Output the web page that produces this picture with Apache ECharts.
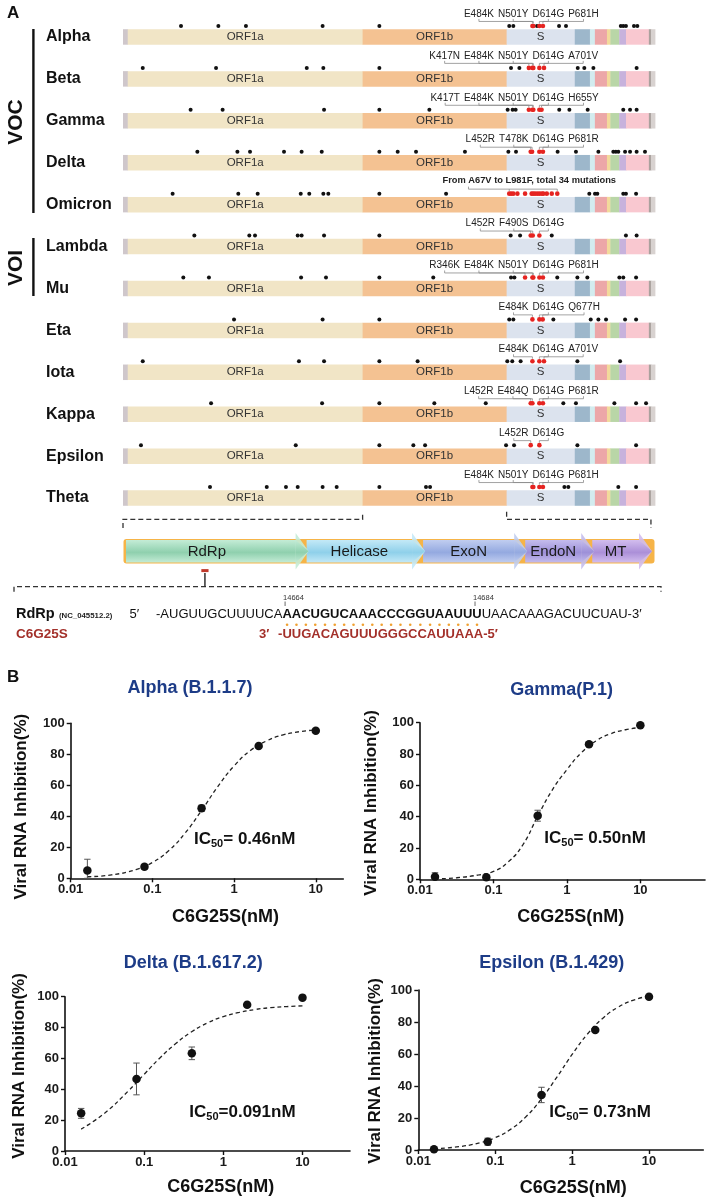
<!DOCTYPE html>
<html><head><meta charset="utf-8">
<script src="https://cdn.jsdelivr.net/npm/echarts@6/dist/echarts.min.js"></script>
<style>html,body{margin:0;padding:0;background:#fff}#c{width:709px;height:1201px}</style>
</head><body><div id="c"></div>
<script>
// ---------------- DATA ----------------
const variants = ['Alpha','Beta','Gamma','Delta','Omicron','Lambda','Mu','Eta','Iota','Kappa','Epsilon','Theta'];
const geneNames = ['5\u2032UTR','ORF1a','ORF1b','S','ORF3a','E','M','ORF6','ORF7','ORF8','N','ORF10','3\u2032UTR'];
const geneStartKb = [0, 0.266, 13.468, 21.563, 25.393, 26.245, 26.523, 27.202, 27.394, 27.894, 28.274, 29.558, 29.675];
const genomeLengthKb = 29.903;
const spikeStartNt = 21563;
// non-highlighted mutations (black dots), genome position in kb, per variant (same order as variants)
const otherMutKb = [
  [3.26, 5.36, 6.91, 11.22, 14.41, 21.71, 21.94, 23.27, 24.51, 24.90, 27.98, 28.12, 28.27, 28.72, 28.91],
  [1.11, 5.23, 10.33, 11.26, 14.41, 21.81, 22.28, 25.56, 25.93, 26.44, 28.87],
  [3.80, 5.60, 11.30, 14.41, 17.22, 21.62, 21.90, 22.07, 24.52, 25.09, 26.12, 28.12, 28.50, 28.87],
  [4.18, 6.43, 7.14, 9.05, 10.04, 11.17, 14.41, 15.44, 16.47, 19.22, 21.66, 22.09, 24.43, 25.46, 26.72, 27.56, 27.70, 27.84, 28.22, 28.50, 28.87, 29.34],
  [2.79, 6.48, 7.57, 9.99, 10.47, 11.26, 11.54, 14.41, 18.16, 26.21, 26.53, 26.66, 28.12, 28.27, 28.84],
  [4.01, 7.10, 7.42, 9.82, 10.04, 11.30, 14.41, 21.79, 22.32, 24.10, 28.27, 28.87],
  [3.39, 4.83, 10.01, 11.41, 14.41, 17.44, 21.81, 22.00, 24.41, 25.54, 26.10, 27.90, 28.12, 28.84],
  [6.24, 11.22, 14.41, 21.71, 21.94, 24.19, 26.29, 26.72, 27.15, 28.22, 28.84],
  [1.11, 9.89, 11.30, 14.41, 16.56, 21.60, 21.88, 22.35, 25.54, 27.94],
  [4.95, 11.19, 14.41, 17.50, 20.39, 24.75, 25.46, 27.62, 28.84, 29.40],
  [1.01, 9.71, 14.41, 16.32, 16.98, 21.53, 21.98, 25.54, 28.84],
  [4.89, 8.08, 9.16, 9.82, 11.22, 12.01, 14.41, 17.03, 17.26, 24.81, 25.03, 27.84, 28.84]
];
// highlighted spike mutations (red dots with labels)
const spikeMutations = [
  ['E484K','N501Y','D614G','P681H'],
  ['K417N','E484K','N501Y','D614G','A701V'],
  ['K417T','E484K','N501Y','D614G','H655Y'],
  ['L452R','T478K','D614G','P681R'],
  [],
  ['L452R','F490S','D614G'],
  ['R346K','E484K','N501Y','D614G','P681H'],
  ['E484K','D614G','Q677H'],
  ['E484K','D614G','A701V'],
  ['L452R','E484Q','D614G','P681R'],
  ['L452R','D614G'],
  ['E484K','N501Y','D614G','P681H']
];
const omicronRow = 4;
const omicronSpikeKb = [21.71, 21.82, 21.94, 22.17, 22.60, 22.97, 23.06, 23.17, 23.30, 23.42, 23.55, 23.63, 23.82, 24.10, 24.41];
const omicronNote = 'From A67V to L981F, total 34 mutations';

const domainNames = ['RdRp','Helicase','ExoN','EndoN','MT'];
const domainLengthAa = [932, 601, 527, 346, 298];
const nsp12StartNt = 13442;
const targetStartNt = 14664;
const targetEndNt = 14684;
const seqPrefix = '-AUGUUGCUUUUCA';
const seqTarget = 'AACUGUCAAACCCGGUAAUUU';
const seqSuffix = 'UAACAAAGACUUCUAU-3\u2032';
const sirnaSeq = 'UUGACAGUUUGGGCCAUUAAA';

const doseConcNM = [0.016, 0.08, 0.4, 2, 10];
const curveConcNM = [0.016, 0.0316, 0.063, 0.1, 0.158, 0.251, 0.398, 0.631, 1, 1.585, 2.512, 3.981, 6.31, 10];
const xTickNM = [0.01, 0.1, 1, 10];
const panelTitles = ['Alpha (B.1.1.7)', 'Gamma(P.1)', 'Delta (B.1.617.2)', 'Epsilon (B.1.429)'];
const ic50Texts = ['= 0.46nM', '= 0.50nM', '=0.091nM', '= 0.73nM'];
const alphaMean = [5, 7.5, 45.2, 85.4, 95.2];
const alphaErr = [7.3, 1.5, 2, 1, 0.6];
const alphaCurve = [1, 2.2, 5.6, 10.2, 17.8, 29.1, 43.6, 59.1, 72.5, 82.4, 88.7, 92.5, 94.6, 95.7];
const gammaMean = [1.7, 1.3, 40.6, 86.2, 98.3];
const gammaErr = [2.5, 0.8, 3.5, 1, 0.6];
const gammaCurve = [0.2, 1.0, 2.8, 5.0, 11, 22, 40, 57, 70, 81, 88.5, 93, 95.5, 97];
const deltaMean = [24.4, 46.7, 63.3, 94.8, 99.4];
const deltaErr = [3.2, 10.3, 4.1, 1, 0.8];
const deltaCurve = [14.2, 24.5, 38.9, 49.7, 60.3, 69.6, 77.3, 83, 87.1, 89.8, 91.7, 92.9, 93.6, 94.1];
const epsilonMean = [0.4, 5.2, 34.4, 75, 95.8];
const epsilonErr = [0.5, 2.2, 4.8, 1, 0.8];
const epsilonCurve = [0.8, 1.9, 4.5, 7.7, 12.9, 20.8, 31.9, 45.4, 59.7, 72.5, 82.4, 89.3, 93.7, 96.3];

// ---------------- LAYOUT / STYLE ----------------
const FF = '"Liberation Sans", Arial, Helvetica, sans-serif';
const geneColors = ['#cfc7cb','#f1e5c6','#f4c292','#dce3ee','#9db7cb','#d3ecef','#eca7a8','#f2da9b','#b9d6a7','#c7b2dc','#f9c8d0','#aaa19d','#d8d2d0'];
const geneLabelled = {'ORF1a':1,'ORF1b':1,'S':1};
const domainColors = [['#c4ecd6','#8fd0ae'],['#c3e9f7','#8fd0ea'],['#c0cdf0','#94a9e0'],['#c4bced','#9d90d8'],['#d2bdee','#ab8fd8']];
const BLUE = '#1d3c87';
const RED_TXT = '#a3302a';

const mctx = document.createElement('canvas').getContext('2d');
function textW(t, font){ mctx.font = font; return mctx.measureText(t).width; }
function aaToKb(aa){ return (spikeStartNt + 3*(aa-1) + 1)/1000; }
function mutKb(m){ return aaToKb(parseInt(m.match(/\d+/)[0], 10)); }

const chart = echarts.init(document.getElementById('c'), null, {renderer:'canvas'});

// genome bars data
const geneData = [];
variants.forEach((v, r) => {
  geneStartKb.forEach((s, g) => {
    const e = g < geneStartKb.length - 1 ? geneStartKb[g+1] : genomeLengthKb;
    geneData.push([s, e, r, g]);
  });
});
const blackData = [], redData = [];
otherMutKb.forEach((arr, r) => arr.forEach(k => blackData.push([k, r])));
spikeMutations.forEach((arr, r) => arr.forEach(m => redData.push([mutKb(m), r])));
omicronSpikeKb.forEach(k => redData.push([k, omicronRow]));

function renderGene(params, api){
  const g = api.value(3);
  const a = api.coord([api.value(0), api.value(2)]);
  const b = api.coord([api.value(1), api.value(2)]);
  const h = 15.5;
  const ch = [{type:'rect', shape:{x:a[0], y:a[1]-h/2, width:b[0]-a[0]+0.4, height:h}, style:{fill:geneColors[g]}}];
  if (geneLabelled[geneNames[g]]) {
    ch.push({type:'text', z2:5, style:{text:geneNames[g], x:(a[0]+b[0])/2, y:a[1], align:'center', verticalAlign:'middle', font:'11.5px ' + FF, fill:'#333'}});
  }
  return {type:'group', children:ch};
}

const labelFont = '10px ' + FF;
function renderSpikeLabels(params, api){
  const row = api.value(1);
  const yc = api.coord([0, row])[1];
  const labY = yc - 23, labBottom = yc - 18, hY = yc - 15.5, dotTop = yc - 13.5;
  const ls = {stroke:'#8c8c8c', lineWidth:0.8, fill:null};
  const ch = [];
  if (row === omicronRow) {
    const xs = omicronSpikeKb.map(k => api.coord([k, row])[0]);
    const x0 = Math.min.apply(null, xs), x1 = Math.max.apply(null, xs);
    const f = 'bold 9.3px ' + FF;
    const cx = (x0 + x1)/2 - 4;
    const tw = textW(omicronNote, f);
    const lx = cx - tw/2 + 26;
    ch.push({type:'text', style:{text:omicronNote, x:cx, y:labY - 1, align:'center', verticalAlign:'middle', font:f, fill:'#222'}});
    ch.push({type:'polyline', shape:{points:[[lx,labBottom],[lx,hY],[x1,hY],[x1,dotTop]]}, style:ls});
    ch.push({type:'polyline', shape:{points:[[x0,hY],[x0,dotTop]]}, style:ls});
    return {type:'group', children:ch};
  }
  const muts = spikeMutations[row];
  const xs = muts.map(m => api.coord([mutKb(m), row])[0]);
  const ws = muts.map(m => textW(m, labelFont));
  const gap = 4;
  const ai = muts.indexOf('D614G');
  const cx = new Array(muts.length);
  cx[ai] = xs[ai] + 9;
  for (let i = ai-1; i >= 0; i--) cx[i] = cx[i+1] - ws[i+1]/2 - gap - ws[i]/2;
  for (let i = ai+1; i < muts.length; i++) cx[i] = cx[i-1] + ws[i-1]/2 + gap + ws[i]/2;
  muts.forEach((m, i) => {
    ch.push({type:'text', style:{text:m, x:cx[i], y:labY, align:'center', verticalAlign:'middle', font:labelFont, fill:'#222'}});
    ch.push({type:'polyline', shape:{points:[[cx[i],labBottom],[cx[i],hY],[xs[i],hY],[xs[i],dotTop]]}, style:ls});
  });
  return {type:'group', children:ch};
}

// domains
const domainStart = [];
let acc = 0;
domainLengthAa.forEach(l => { domainStart.push(acc); acc += l; });
const totalAa = acc;
const domainData = domainNames.map((n, i) => [domainStart[i], domainStart[i] + domainLengthAa[i], i]);
function renderDomain(params, api){
  const i = api.value(2);
  const a = api.coord([api.value(0), 0.5]), b = api.coord([api.value(1), 0.5]);
  const h = 22.6, top = a[1]-h/2, bot = a[1]+h/2, yc = a[1];
  const head = 11, flare = 7;
  const x0 = a[0], x1 = b[0];
  const grad = new echarts.graphic.LinearGradient(0, 0, 0, 1, [{offset:0, color:domainColors[i][0]}, {offset:0.55, color:domainColors[i][1]}, {offset:1, color:domainColors[i][0]}]);
  return {type:'group', children:[
    {type:'rect', z2: 10 - i, shape:{x:x0, y:top, width:x1-head-x0+0.5, height:h}, style:{fill:grad}},
    {type:'polygon', z2: 10 - i, shape:{points:[[x1-head, top-flare],[x1+2, yc],[x1-head, bot+flare]]}, style:{fill:domainColors[i][0], opacity:0.9}},
    {type:'polygon', z2: 10 - i, shape:{points:[[x1-head, top],[x1+2, yc],[x1-head, bot]]}, style:{fill:grad}},
    {type:'text', z2: 30, style:{text:domainNames[i], x:(x0 + x1 - head)/2 + (i === 0 ? -4 : 0), y:yc + 0.5, align:'center', verticalAlign:'middle', font:'15px ' + FF, fill:'#1a1a1a'}}
  ]};
}
function renderDomainFrame(params, api){
  const a = api.coord([api.value(0), 0.5]), b = api.coord([api.value(1), 0.5]);
  const h = 22.6;
  return {type:'rect', z2: 0, shape:{x:a[0]-2.5, y:a[1]-h/2-1, width:b[0]-a[0]+7, height:h+2, r:3}, style:{fill:'#f6b448'}};
}
const targetAa = (targetStartNt - nsp12StartNt)/3;
function renderTarget(params, api){
  const p = api.coord([api.value(0), 0]);
  return {type:'group', children:[
    {type:'rect', shape:{x:p[0]-3.6, y:p[1]+6.5, width:7.2, height:3}, style:{fill:'#c0392b'}},
    {type:'line', shape:{x1:p[0], y1:p[1]+10.5, x2:p[0], y2:p[1]+24}, style:{stroke:'#222', lineWidth:1.4}}
  ]};
}

// panel B
const panels = [
  {left:70.7, top:723.3, width:272.6, height:155, xmax:1.337, title:[190,688.3], yname:[21.7,806.7], xname:[225.5,917.3], ic:[194,839.3], mean:alphaMean, err:alphaErr, curve:alphaCurve},
  {left:420, top:722.7, width:285, height:156.6, xmax:1.88, title:[561.7,690], yname:[371.7,803], xname:[570.8,917.3], ic:[544.3,838.3], mean:gammaMean, err:gammaErr, curve:gammaCurve},
  {left:65, top:996.7, width:285, height:154.3, xmax:1.6, title:[193.3,963.3], yname:[19.3,1066], xname:[220.8,1186.7], ic:[189.3,1112.7], mean:deltaMean, err:deltaErr, curve:deltaCurve},
  {left:418.3, top:990, width:285, height:160, xmax:1.706, title:[551.7,963.3], yname:[375,1071], xname:[573.3,1188.3], ic:[549.3,1112.7], mean:epsilonMean, err:epsilonErr, curve:epsilonCurve}
];
function renderErr(params, api){
  const x = api.value(0), m = api.value(1), e = api.value(2);
  const hi = api.coord([x, m + e]), lo = api.coord([x, Math.max(0, m - e)]);
  const c = 3.2, st = {stroke:'#555', lineWidth:1};
  return {type:'group', children:[
    {type:'line', shape:{x1:hi[0], y1:hi[1], x2:lo[0], y2:lo[1]}, style:st},
    {type:'line', shape:{x1:hi[0]-c, y1:hi[1], x2:hi[0]+c, y2:hi[1]}, style:st},
    {type:'line', shape:{x1:lo[0]-c, y1:lo[1], x2:lo[0]+c, y2:lo[1]}, style:st}
  ]};
}
const xTickLog = xTickNM.map(v => Math.log10(v));
function fmtConc(v){ return String(parseFloat(Math.pow(10, v).toPrecision(3))); }

const grids = [
  {left:123, top:16, width:532, height:503},
  {left:126, top:540, width:524, height:22.6}
];
const xAxes = [
  {gridIndex:0, type:'value', min:0, max:genomeLengthKb, show:false},
  {gridIndex:1, type:'value', min:0, max:totalAa, show:false}
];
const yAxes = [
  {gridIndex:0, type:'category', data:variants, inverse:true, axisLine:{show:false}, axisTick:{show:false}, splitLine:{show:false},
   axisLabel:{align:'left', margin:77, fontSize:16, fontWeight:'bold', color:'#111', fontFamily:FF}},
  {gridIndex:1, type:'value', min:0, max:1, show:false}
];
const series = [
  {type:'custom', xAxisIndex:0, yAxisIndex:0, data:geneData, renderItem:renderGene, encode:{x:[0,1], y:2}, clip:false, silent:true, z:2},
  {type:'scatter', xAxisIndex:0, yAxisIndex:0, data:blackData, symbolSize:4, symbolOffset:[0,-11], itemStyle:{color:'#111', opacity:1}, silent:true, z:3},
  {type:'scatter', xAxisIndex:0, yAxisIndex:0, data:redData, symbolSize:4.6, symbolOffset:[0,-11], itemStyle:{color:'#e52421', opacity:1}, silent:true, z:4},
  {type:'custom', xAxisIndex:0, yAxisIndex:0, data:variants.map((v, r) => [0, r]), renderItem:renderSpikeLabels, encode:{x:0, y:1}, clip:false, silent:true, z:5},
  {type:'custom', xAxisIndex:1, yAxisIndex:1, data:[[0, totalAa]], renderItem:renderDomainFrame, encode:{x:[0,1]}, clip:false, silent:true, z:2},
  {type:'custom', xAxisIndex:1, yAxisIndex:1, data:domainData, renderItem:renderDomain, encode:{x:[0,1]}, clip:false, silent:true, z:3},
  {type:'custom', xAxisIndex:1, yAxisIndex:1, data:[[targetAa]], renderItem:renderTarget, encode:{x:0}, clip:false, silent:true, z:3}
];
const axisTxt = {fontWeight:'bold', fontSize:13, color:'#1a1a1a', fontFamily:FF};
panels.forEach((p, i) => {
  const gi = i + 2;
  grids.push({left:p.left, top:p.top, width:p.width, height:p.height});
  xAxes.push({gridIndex:gi, type:'value', min:-2, max:p.xmax, splitLine:{show:false},
    axisLine:{show:true, onZero:false, lineStyle:{color:'#111', width:1.6}},
    axisTick:{show:true, customValues:xTickLog, length:4, lineStyle:{color:'#111', width:1.4}},
    axisLabel:Object.assign({customValues:xTickLog, formatter:fmtConc, margin:5}, axisTxt)});
  yAxes.push({gridIndex:gi, type:'value', min:0, max:100, interval:20, splitLine:{show:false},
    axisLine:{show:true, onZero:false, lineStyle:{color:'#111', width:1.6}},
    axisTick:{show:true, length:4, lineStyle:{color:'#111', width:1.4}},
    axisLabel:Object.assign({margin:6}, axisTxt)});
  series.push({type:'line', xAxisIndex:gi, yAxisIndex:gi, data:curveConcNM.map((c, k) => [Math.log10(c), p.curve[k]]), smooth:true, showSymbol:false, symbol:'none',
    lineStyle:{type:[4,3], width:1.3, color:'#222'}, silent:true, z:2});
  series.push({type:'custom', xAxisIndex:gi, yAxisIndex:gi, data:doseConcNM.map((c, k) => [Math.log10(c), p.mean[k], p.err[k]]), renderItem:renderErr, encode:{x:0, y:1}, clip:false, silent:true, z:3});
  series.push({type:'scatter', xAxisIndex:gi, yAxisIndex:gi, data:doseConcNM.map((c, k) => [Math.log10(c), p.mean[k]]), symbolSize:8.5, itemStyle:{color:'#111', opacity:1}, silent:true, z:4});
});

// ---------------- GRAPHIC ANNOTATIONS ----------------
const graphics = [];
function txt(x, y, text, font, fill, align, rot){
  const o = {type:'text', x:x, y:y, style:{text:text, font:font, fill:fill || '#111', align:align || 'left', verticalAlign:'middle'}};
  if (rot) o.rotation = rot;
  return o;
}
graphics.push(txt(7, 13.3, 'A', 'bold 17px ' + FF));
graphics.push(txt(7, 677.5, 'B', 'bold 17px ' + FF));
graphics.push(txt(16, 122, 'VOC', 'bold 21px ' + FF, '#111', 'center', Math.PI/2));
graphics.push(txt(16, 268, 'VOI', 'bold 21px ' + FF, '#111', 'center', Math.PI/2));
graphics.push({type:'rect', shape:{x:32.2, y:29, width:2.4, height:184}, style:{fill:'#111'}});
graphics.push({type:'rect', shape:{x:32.2, y:238, width:2.4, height:58}, style:{fill:'#111'}});

// sequence block
const seqY = 614.3, sirY = 634.3;
const fN = '13px ' + FF, fB = 'bold 13px ' + FF;
const seqX = 156;
graphics.push(txt(16, seqY, 'RdRp', 'bold 14.5px ' + FF));
graphics.push(txt(59, seqY + 1.5, '(NC_045512.2)', 'bold 7.8px ' + FF, '#222'));
graphics.push(txt(129.5, seqY, '5\u2032', fN, '#111'));
graphics.push({type:'text', x:seqX, y:seqY, style:{text:'{n|' + seqPrefix + '}{b|' + seqTarget + '}{n|' + seqSuffix + '}', verticalAlign:'middle', align:'left', fill:'#111',
  rich:{n:{fontSize:13, fontFamily:FF}, b:{fontSize:13, fontWeight:'bold', fontFamily:FF}}}});
const tStart = seqX + textW(seqPrefix, fN);
const charCenters = [];
for (let k = 0; k < seqTarget.length; k++) {
  charCenters.push(tStart + textW(seqTarget.slice(0, k), fB) + textW(seqTarget[k], fB)/2);
}
charCenters.forEach(cx => graphics.push({type:'circle', shape:{cx:cx, cy:624.8, r:1.3}, style:{fill:'#f0a030'}}));
graphics.push(txt(16, sirY, 'C6G25S', 'bold 13.5px ' + FF, RED_TXT));
graphics.push(txt(259, sirY, '3\u2032', fB, RED_TXT));
graphics.push(txt(tStart - textW('-', fB), sirY, '-' + sirnaSeq + '-5\u2032', fB, RED_TXT));
[[0, targetStartNt], [seqTarget.length - 1, targetEndNt]].forEach(([k, nt]) => {
  const x = charCenters[k] - 2;
  graphics.push(txt(x - 2, 597.5, String(nt), '7.5px ' + FF, '#333'));
  graphics.push({type:'line', shape:{x1:x, y1:601.5, x2:x, y2:606}, style:{stroke:'#444', lineWidth:0.8}});
});
const dash = {stroke:'#333', lineWidth:1.3, lineDash:[5,3], fill:null};
graphics.push({type:'polyline', shape:{points:[[14,591.7],[14,586.7],[661,586.7],[661,591.7]]}, style:dash});

// panel B texts
panels.forEach((p, i) => {
  graphics.push(txt(p.title[0], p.title[1], panelTitles[i], 'bold 18px ' + FF, BLUE, 'center'));
  graphics.push(txt(p.yname[0], p.yname[1], 'Viral RNA Inhibition(%)', 'bold 17px ' + FF, '#111', 'center', Math.PI/2));
  graphics.push(txt(p.xname[0], p.xname[1], 'C6G25S(nM)', 'bold 18px ' + FF, '#111', 'center'));
  graphics.push({type:'text', x:p.ic[0], y:p.ic[1], style:{text:'{a|IC}{s|50}{a|' + ic50Texts[i] + '}', align:'left', verticalAlign:'middle', fill:'#111',
    rich:{a:{fontSize:17, fontWeight:'bold', fontFamily:FF, lineHeight:20}, s:{fontSize:11, fontWeight:'bold', fontFamily:FF, verticalAlign:'bottom', lineHeight:12}}}});
});

const option = {
  animation:false,
  backgroundColor:'#ffffff',
  textStyle:{fontFamily:FF},
  grid:grids, xAxis:xAxes, yAxis:yAxes, series:series,
  graphic:graphics
};
chart.setOption(option);

// brackets linking the genome bars to the nsp12-16 domain bar (positions from the genome axis)
const gp = kb => chart.convertToPixel({xAxisIndex:0, yAxisIndex:0}, [kb, variants.length - 1]);
const yTheta = gp(0)[1];
const yb1 = yTheta + 13.7, yb2 = yTheta + 21.3, yb3 = yTheta + 30;
const xa = gp(0)[0], xb = gp(geneStartKb[2])[0], xc = gp(geneStartKb[3])[0], xd = gp(geneStartKb[12])[0];
graphics.push({type:'polyline', shape:{points:[[xa,yb3],[xa,yb2],[xb,yb2],[xb,yb1]]}, style:dash});
graphics.push({type:'polyline', shape:{points:[[xc,yb1],[xc,yb2],[xd,yb2],[xd,yb3]]}, style:dash});
chart.setOption({graphic:graphics});
</script>
</body></html>
